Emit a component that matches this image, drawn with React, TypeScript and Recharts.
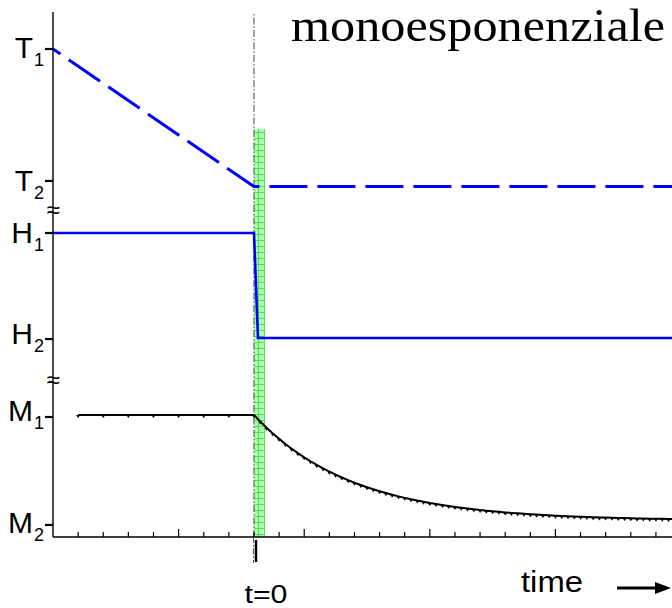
import React from 'react';
import { LineChart, Line, XAxis, YAxis, ReferenceArea, ReferenceLine } from 'recharts';

// time axis (t = 0 is the step instant)
const timeDomain: [number, number] = [-8, 16.64];
const timeTicks = [-7, -6, -5, -4, -3, -2, -1, 0, 1, 2, 3, 4, 5, 6, 7, 8, 9, 10, 11, 12, 13, 14, 15, 16];
const majorTimeTicks = [-3, 2, 7, 12];

// vertical levels of the three stacked traces
const levelDomain: [number, number] = [0, 105];
const levelTicks = [97.6, 71.2, 60.8, 39.6, 24.0, 2.4];
const levelLetters = ['T', 'T', 'H', 'H', 'M', 'M'];
const levelSubs = ['1', '2', '1', '2', '1', '2'];
const levelLabelShift = [9, 10, 10, 5, 4, 8];
const axisBreaks = [65.4, 31.4];

// T trace: linear ramp then constant
const tempTimes = [-8, 0, 17];
const tempLevels = [97.6, 70.1, 70.1];

// H trace: instantaneous step
const heightTimes = [-8, 0, 0.16, 17];
const heightLevels = [60.8, 60.8, 39.8, 39.8];

// M trace: constant, then single-exponential relaxation
const mFlatTimes = [-7, -6, -5, -4, -3, -2, -1];
const mFlatLevel = 24.4;
const mDecayStep = 0.25;
const mDecayLevels = [
  24.4, 23.09, 21.86, 20.71, 19.63, 18.61, 17.66, 16.77, 15.93, 15.15, 14.41, 13.72,
  13.07, 12.47, 11.9, 11.36, 10.86, 10.39, 9.95, 9.54, 9.15, 8.79, 8.45, 8.13, 7.83,
  7.55, 7.28, 7.04, 6.8, 6.59, 6.38, 6.19, 6.01, 5.84, 5.69, 5.54, 5.4, 5.27, 5.15,
  5.03, 4.92, 4.82, 4.73, 4.64, 4.56, 4.48, 4.4, 4.34, 4.27, 4.21, 4.15, 4.1, 4.05,
  4.0, 3.96, 3.92, 3.88, 3.84, 3.81, 3.78, 3.75, 3.72, 3.69, 3.67, 3.65, 3.63, 3.61, 3.59,
];

// transition window
const bandStart = 0;
const bandEnd = 0.44;
const bandTop = 81.6;

const tempData = tempTimes.map((t, i) => ({ t, v: tempLevels[i] }));
const heightData = heightTimes.map((t, i) => ({ t, v: heightLevels[i] }));
const mData = [
  ...mFlatTimes.map((t) => ({ t, v: mFlatLevel })),
  ...mDecayLevels.map((v, i) => ({ t: i * mDecayStep, v })),
];

const SANS = '"Liberation Sans", Arial, Helvetica, sans-serif';
const SERIF = '"Liberation Serif", "Times New Roman", serif';

function TimeTick(props: any) {
  const { x, y, payload } = props;
  const t = payload.value;
  const len = majorTimeTicks.includes(t) ? 8 : 5;
  return (
    <g>
      <line x1={x} x2={x} y1={y} y2={y - len} stroke="#000" strokeWidth={1.2} />
      {t === 0 && (
        <>
          <line x1={x - 0.5} x2={x - 0.5} y1={y} y2={y + 26} stroke="#555" strokeWidth={1} strokeDasharray="6 2 1.5 2" />
          <line x1={x + 2} x2={x + 2} y1={y + 3} y2={y + 25} stroke="#000" strokeWidth={2.5} />
          <text x={x + 12} y={y + 66} textAnchor="middle" fontFamily={SANS} fontSize={25} fill="#000" textLength={43} lengthAdjust="spacingAndGlyphs">
            t=0
          </text>
        </>
      )}
    </g>
  );
}

function LevelTick(props: any) {
  const { x, y, payload } = props;
  const v = payload.value;
  const i = levelTicks.indexOf(v);
  if (i < 0) {
    return (
      <text x={x} y={y + 8} textAnchor="middle" fontFamily={SANS} fontSize={24} fill="#000">
        ≈
      </text>
    );
  }
  return (
    <g>
      <line x1={x - 8} x2={x} y1={y} y2={y} stroke="#000" strokeWidth={2.2} />
      <text x={x - 9} y={y + levelLabelShift[i]} textAnchor="end" fontFamily={SANS} fill="#000">
        <tspan fontSize={30}>{levelLetters[i]}</tspan>
        <tspan fontSize={18} dx={1} dy={7.5}>{levelSubs[i]}</tspan>
      </text>
    </g>
  );
}

function TriangleDot(props: any) {
  const { cx, cy, index } = props;
  if (cx == null || cy == null) return <g key={`d${index}`} />;
  return <path key={`d${index}`} d={`M${cx - 2},${cy} L${cx + 2},${cy} L${cx},${cy + 3} Z`} fill="#000" />;
}

export default function App() {
  return (
    <div style={{ position: 'absolute', left: 0, top: 0, width: 672, height: 608, background: '#fff' }}>
      <LineChart width={672} height={608} margin={{ top: 12, right: 0, bottom: 0, left: 0 }}>
        <defs>
          <pattern id="bandHatch" width="6" height="6" patternUnits="userSpaceOnUse">
            <rect width="6" height="6" fill="#98fb98" />
            <rect x="2" y="2" width="1" height="1" fill="#d8ffd8" />
            <rect x="4" y="4" width="1" height="1" fill="#d8ffd8" />
            <rect x="2" y="4" width="1" height="1" fill="#66ff66" />
            <rect x="4" y="2" width="1" height="1" fill="#66ff66" />
            <path d="M0 0.5H6M0.5 0V6" stroke="#22e022" strokeWidth="1" />
          </pattern>
        </defs>
        <XAxis
          dataKey="t"
          type="number"
          domain={timeDomain}
          allowDataOverflow
          ticks={timeTicks}
          interval={0}
          tickLine={false}
          tickSize={0}
          tickMargin={0}
          tick={<TimeTick />}
          axisLine={{ stroke: '#000', strokeWidth: 1.4 }}
          height={71}
        />
        <YAxis
          type="number"
          domain={levelDomain}
          allowDataOverflow
          ticks={[...levelTicks, ...axisBreaks]}
          interval={0}
          tickLine={false}
          tickSize={0}
          tickMargin={0}
          tick={<LevelTick />}
          axisLine={{ stroke: '#000', strokeWidth: 1.4 }}
          width={53}
        />
        <ReferenceLine x={0} stroke="#444" strokeWidth={1} strokeDasharray="7 2 1.5 2" />
        <Line
          data={tempData}
          dataKey="v"
          type="linear"
          stroke="#0000ff"
          strokeWidth={3}
          strokeDasharray="38 10"
          strokeDashoffset={29}
          dot={false}
          isAnimationActive={false}
        />
        <Line data={heightData} dataKey="v" type="linear" stroke="#0000ff" strokeWidth={2.6} dot={false} isAnimationActive={false} />
        <Line data={mData} dataKey="v" type="linear" stroke="#000" strokeWidth={2} dot={TriangleDot} isAnimationActive={false} />
        <ReferenceArea x1={bandStart} x2={bandEnd} y1={0} y2={bandTop} fill="url(#bandHatch)" fillOpacity={0.8} stroke="none" />
      </LineChart>
      <svg width={672} height={608} style={{ position: 'absolute', left: 0, top: 0, pointerEvents: 'none' }}>
        <text x={291} y={41} fontFamily={SERIF} fontSize={46} fill="#000" textLength={374} lengthAdjust="spacingAndGlyphs">
          monoesponenziale
        </text>
        <text x={521} y={592} fontFamily={SANS} fontSize={29} fill="#000" textLength={62} lengthAdjust="spacingAndGlyphs">
          time
        </text>
        <line x1={617} x2={657} y1={588} y2={588} stroke="#000" strokeWidth={3} />
        <path d="M655,582 L671,588 L655,594 Z" fill="#000" />
      </svg>
    </div>
  );
}
